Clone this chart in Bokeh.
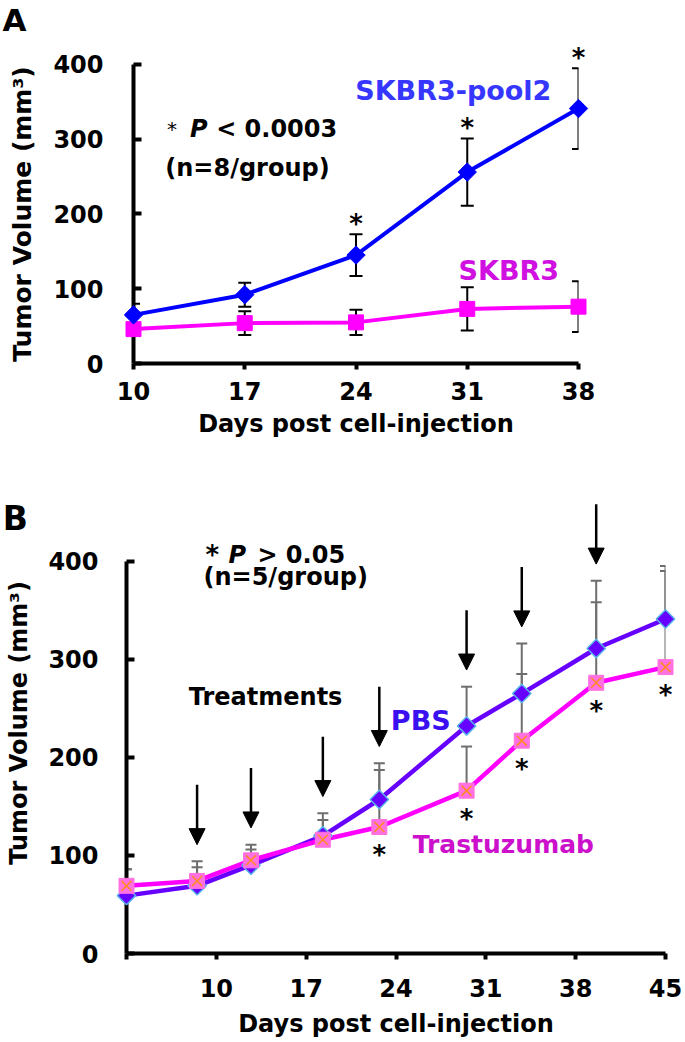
import math
from bokeh.plotting import figure
from bokeh.models import ColumnDataSource, FixedTicker, Arrow, NormalHead, Range1d
from bokeh.embed import file_html
from bokeh.resources import INLINE
from bokeh.core.properties import value

# ---------------- data ----------------
# Panel A
DAYS_A = [10, 17, 24, 31, 38]
POOL2_A = [65, 92, 145, 256, 341]
POOL2_ERR_A = [15, 16, 28, 45, 54]
SKBR3_A = [46, 54, 55, 73, 76]
SKBR3_ERR_A = [6, 16, 17, 29, 34]
STAR_DAYS_A = [24, 31, 38]
Y_TICKS = [0, 100, 200, 300, 400]

# Panel B
DAYS_B = [3, 8.5, 12.7, 18.3, 22.7, 29.5, 33.8, 39.6, 45]
PBS_B = [59, 69, 90, 120, 157, 232, 265, 311, 341]
PBS_ERR_B = [27, 25, 21, 23, 37, 40, 51, 69, 54]
TRAS_B = [69, 74, 95, 116, 129, 166, 217, 276, 292]
TRAS_ERR_B = [17, 14, 11, 20, 58, 45, 68, 82, 98]
STAR_DAYS_B = [22.7, 29.5, 33.8, 39.6, 45]
TREAT_DAYS_B = [8.5, 12.7, 18.3, 22.7, 29.5, 33.8, 39.6]
X_TICKS_B = [3, 10, 17, 24, 31, 38, 45]
X_TICK_LABELS_B = ["", "10", "17", "24", "31", "38", "45"]

FONT = "DejaVu Sans"
BLUE = "#0000ff"
MAGENTA = "#ff00ff"
VIOLET = "#6600ff"


def style(p):
    p.outline_line_color = None
    p.xgrid.visible = False
    p.ygrid.visible = False
    for ax in (p.xaxis[0], p.yaxis[0]):
        ax.axis_line_width = 4
        ax.axis_line_color = "black"
        ax.major_tick_line_width = 4
        ax.major_tick_line_color = "black"
        ax.minor_tick_line_color = None
        ax.major_label_text_font = FONT
        ax.major_label_text_font_style = "bold"
        ax.major_label_text_font_size = "24px"
        ax.major_label_text_color = "black"
        ax.axis_label_text_font = FONT
        ax.axis_label_text_font_style = "bold"
        ax.axis_label_text_font_size = "24px"
        ax.axis_label_text_color = "black"
    p.yaxis.major_tick_in = 8
    p.yaxis.major_tick_out = 0
    p.xaxis.major_tick_in = 0
    p.xaxis.major_tick_out = 6


def add_text(p, x, y, text, size="24px", color="black", style_="bold", angle=0,
             align="left", baseline="alphabetic"):
    r = p.text(x=[x], y=[y], text=[text], text_font=value(FONT), text_font_size=size,
               text_font_style=style_, text_color=color, angle=angle,
               text_baseline=baseline, text_align=align)
    r.level = "overlay"


# ---------------- Panel A ----------------
pA = figure(width=685, height=460, x_range=Range1d(10, 38), y_range=Range1d(0, 432),
            output_backend="svg", toolbar_location=None,
            min_border_left=133, min_border_right=107, min_border_top=40, min_border_bottom=97)
style(pA)
pA.xaxis.ticker = FixedTicker(ticks=DAYS_A)
pA.yaxis.ticker = FixedTicker(ticks=Y_TICKS)
pA.yaxis.bounds = (0, 400)
pA.xaxis.axis_label = "Days post cell-injection"
pA.yaxis.major_label_standoff = 30
pA.xaxis.major_label_standoff = 12
pA.xaxis.axis_label_standoff = 7

for vals, errs in ((POOL2_A, POOL2_ERR_A), (SKBR3_A, SKBR3_ERR_A)):
    src = ColumnDataSource(dict(x=DAYS_A, lo=[v - e for v, e in zip(vals, errs)],
                                hi=[v + e for v, e in zip(vals, errs)]))
    pA.segment(x0="x", y0="lo", x1="x", y1="hi", source=src, line_color="black", line_width=2)
    pA.scatter(x="x", y="hi", source=src, marker="dash", size=13, line_color="black", line_width=2)
    pA.scatter(x="x", y="lo", source=src, marker="dash", size=13, line_color="black", line_width=2)

pA.line(DAYS_A, SKBR3_A, line_color=MAGENTA, line_width=4)
pA.line(DAYS_A, POOL2_A, line_color=BLUE, line_width=4)
r = pA.scatter(DAYS_A, SKBR3_A, marker="square", size=15, fill_color=MAGENTA, line_color=MAGENTA)
r.level = "overlay"
r = pA.scatter(DAYS_A, POOL2_A, marker="square", angle=math.pi / 4, size=13,
               fill_color=BLUE, line_color=BLUE)
r.level = "overlay"

star_hi_A = [POOL2_A[DAYS_A.index(d)] + POOL2_ERR_A[DAYS_A.index(d)] for d in STAR_DAYS_A]
r = pA.text(x=STAR_DAYS_A, y=star_hi_A, text=["*"] * len(STAR_DAYS_A), text_font=value(FONT),
            text_font_style="bold", text_font_size="26px", text_align="center",
            text_baseline="middle", y_offset=-10)
r.level = "overlay"

add_text(pA, 3.0, 200, "Tumor Volume (mm³)", size="25px", angle=math.pi / 2,
         align="center", baseline="middle")
add_text(pA, 1.75, 459, "A", size="31px")
add_text(pA, 12.1, 314, "*", size="20px", style_="normal")
add_text(pA, 13.55, 314, "P", style_="bold italic")
add_text(pA, 15.2, 314, "< 0.0003")
add_text(pA, 12.0, 262, "(n=8/group)")
add_text(pA, 23.95, 365, "SKBR3-pool2", size="27px", color="#3636ff")
add_text(pA, 30.45, 124, "SKBR3", size="27px", color="#d010e0")

# ---------------- Panel B ----------------
pB = figure(width=685, height=580, x_range=Range1d(3, 45), y_range=Range1d(0, 470),
            output_backend="svg", toolbar_location=None,
            min_border_left=126, min_border_right=20, min_border_top=32, min_border_bottom=87)
style(pB)
pB.xaxis.ticker = FixedTicker(ticks=X_TICKS_B)
pB.xaxis.major_label_overrides = {t: l for t, l in zip(X_TICKS_B, X_TICK_LABELS_B)}
pB.yaxis.ticker = FixedTicker(ticks=Y_TICKS)
pB.yaxis.bounds = (0, 400)
pB.xaxis.axis_label = "Days post cell-injection"
pB.yaxis.axis_label = "Tumor Volume (mm³)"
pB.yaxis.major_label_standoff = 28
pB.yaxis.axis_label_standoff = 12
pB.xaxis.major_label_standoff = 19
pB.xaxis.axis_label_standoff = 10

for vals, errs in ((PBS_B, PBS_ERR_B), (TRAS_B, TRAS_ERR_B)):
    src = ColumnDataSource(dict(x=DAYS_B, lo=vals, hi=[v + e for v, e in zip(vals, errs)]))
    pB.segment(x0="x", y0="lo", x1="x", y1="hi", source=src, line_color="#6e6e6e", line_width=2)
    pB.scatter(x="x", y="hi", source=src, marker="dash", size=11, line_color="#6e6e6e", line_width=2)

pB.line(DAYS_B, PBS_B, line_color=VIOLET, line_width=4.5)
pB.line(DAYS_B, TRAS_B, line_color=MAGENTA, line_width=4.5)
r = pB.scatter(DAYS_B, PBS_B, marker="square", angle=math.pi / 4, size=13,
               fill_color=VIOLET, line_color="#58b4e8", line_width=1.5)
r.level = "overlay"
r = pB.scatter(DAYS_B, TRAS_B, marker="square", size=15, fill_color="#ff70e0", line_color="#ff70e0")
r.level = "overlay"
r = pB.scatter(DAYS_B, TRAS_B, marker="x", size=14, line_color="#ff8a20", line_width=1.5)
r.level = "overlay"

star_y_B = [TRAS_B[DAYS_B.index(d)] for d in STAR_DAYS_B]
r = pB.text(x=STAR_DAYS_B, y=star_y_B, text=["*"] * len(STAR_DAYS_B), text_font=value(FONT),
            text_font_style="bold", text_font_size="26px", text_align="center",
            text_baseline="middle", y_offset=28)
r.level = "overlay"

ARROW_GAP = 17
ARROW_LEN = 61
tips = []
for d in TREAT_DAYS_B:
    i = DAYS_B.index(d)
    tips.append(max(PBS_B[i] + PBS_ERR_B[i], TRAS_B[i] + TRAS_ERR_B[i]) + ARROW_GAP)
arr_src = ColumnDataSource(dict(x=TREAT_DAYS_B, y0=[t + ARROW_LEN for t in tips], y1=tips))
arrows = Arrow(source=arr_src, x_start="x", y_start="y0", x_end="x", y_end="y1",
               line_color="black", line_width=2.5,
               end=NormalHead(size=16, fill_color="black", line_color="black"))
arrows.level = "overlay"
pB.add_layout(arrows)

add_text(pB, -6.65, 444, "B", size="33px")
add_text(pB, 9.15, 406, "*", size="26px")
add_text(pB, 10.95, 406, "P", style_="bold italic")
add_text(pB, 13.2, 406, "> 0.05")
add_text(pB, 9.0, 384, "(n=5/group)")
add_text(pB, 7.85, 261, "Treatments")
add_text(pB, 23.6, 238, "PBS", size="27px", color="#3a10f0")
add_text(pB, 25.3, 111, "Trastuzumab", size="25px", color="#cc10cc")

open("out.html", "w").write(file_html([pA, pB], INLINE))
